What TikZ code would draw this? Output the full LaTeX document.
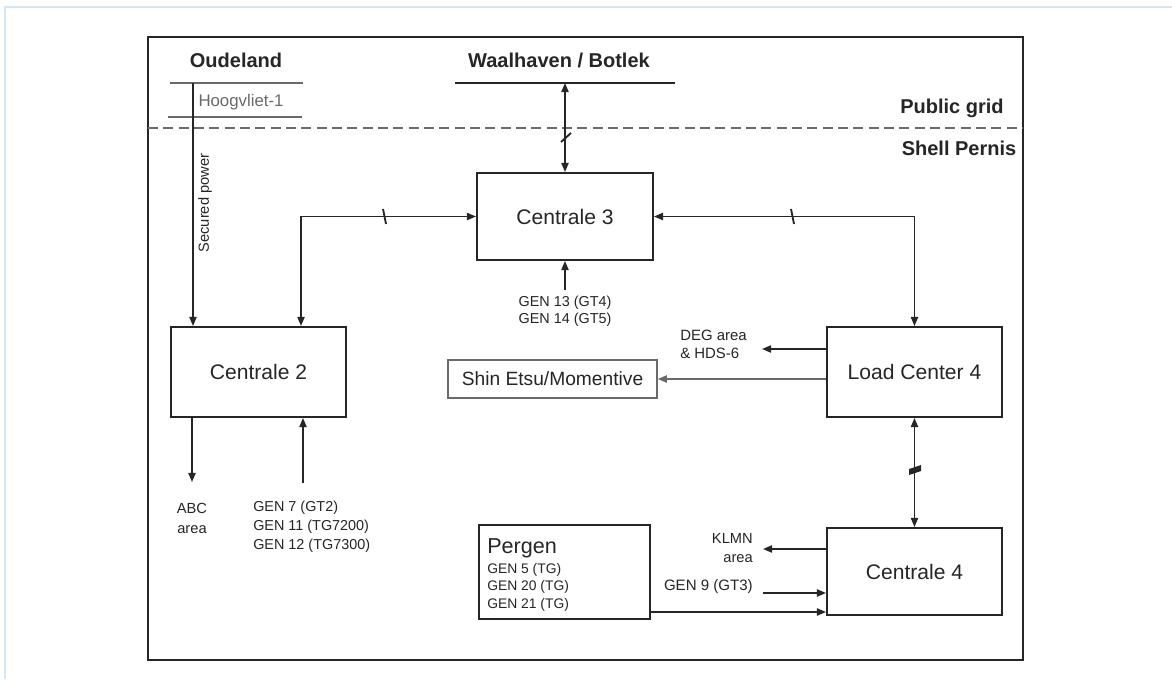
\documentclass[tikz,border=0pt]{standalone}
\usepackage{fontspec}
\setmainfont{Liberation Sans}
\usetikzlibrary{arrows.meta,calc}
\definecolor{ink}{HTML}{262626}
\definecolor{soft}{HTML}{6A6A6A}
\definecolor{frameblue}{HTML}{D3E6F5}
\begin{document}
\begin{tikzpicture}[x=0.75pt,y=-0.75pt,
  >={Triangle[length=6.8pt,width=5.4pt]},
  box/.style={draw=ink, line width=1.5pt, inner sep=0pt, text=ink, font=\fontsize{15.8}{18}\selectfont},
  softbox/.style={draw=soft, line width=1.2pt, inner sep=0pt, text=ink, font=\fontsize{14.4}{17}\selectfont},
  conn/.style={draw=ink, line width=1.2pt},
  softconn/.style={draw=soft, line width=1.2pt},
  bus/.style={draw=soft, line width=1.1pt},
  hdr/.style={font=\fontsize{15}{18}\selectfont\bfseries, text=ink, inner sep=0pt},
  lbl/.style={font=\fontsize{10.8}{12.8}\selectfont, text=ink, inner sep=0pt},
  tick/.style={draw=ink, line width=1.4pt}
]
\useasboundingbox (0,0) rectangle (1172,679);
\fill[white] (0,0) rectangle (1172,679);
\draw[frameblue, line width=0.8pt] (5,679) -- (5,7) -- (1172,7);
\draw[ink, line width=2.2pt] (148,37) rectangle (1023,660);

% zone separation
\coordinate (dl) at (148,128);
\coordinate (dr) at (1023,128);
\draw[soft, line width=1pt, dash pattern=on 7.5pt off 4pt] (dl) -- (dr);
\node[hdr] (pub) at (952,108) {Public grid};
\node[hdr] (shell) at (959,148) {Shell Pernis};

% external grids
\node[hdr] (oud) at (236,60) {Oudeland};
\coordinate (oudL) at (170,83);
\coordinate (oudR) at (303,83);
\draw[bus] (oudL) -- (oudR);
\node[font=\fontsize{12.6}{15}\selectfont, text=soft, inner sep=0pt] (hoog) at (241,102) {Hoogvliet-1};
\coordinate (hooL) at (168,117);
\coordinate (hooR) at (302,117);
\draw[bus] (hooL) -- (hooR);

\node[hdr] (waal) at (559,60) {Waalhaven / Botlek};
\coordinate (waL) at (455,83);
\coordinate (waR) at (675,83);
\draw[conn] (waL) -- (waR);

% boxes
\node[box, minimum width=132pt, minimum height=65.25pt] (C3) at (565,216.5) {Centrale 3};
\node[box, minimum width=131.25pt, minimum height=67.5pt] (C2) at (258.5,372) {Centrale 2};
\node[box, minimum width=131.25pt, minimum height=67.5pt] (LC4) at (914.5,372) {Load Center 4};
\node[box, minimum width=131.25pt, minimum height=65.25pt] (C4) at (914.5,571.5) {Centrale 4};
\node[softbox, minimum width=156.75pt, minimum height=28.5pt] (SE) at (552.5,379) {Shin Etsu/Momentive};
\node[box, minimum width=128.25pt, minimum height=70.5pt] (PG) at (564.5,572) {};
\node[font=\fontsize{16.2}{19}\selectfont, text=ink, inner sep=0pt, anchor=west] (pgt) at (487,548) {Pergen};
\node[font=\fontsize{10.4}{13.1}\selectfont, text=ink, inner sep=0pt, anchor=west, align=left] (pgg) at (487,587) {GEN 5 (TG)\\GEN 20 (TG)\\GEN 21 (TG)};

% secured power
\coordinate (sp) at (193,83);
\draw[conn, ->] (sp) -- (sp |- C2.north);
\node[font=\fontsize{11}{13}\selectfont, text=ink, inner sep=0pt, rotate=90] (spl) at (205,203) {Secured power};

% Waalhaven - Centrale 3
\coordinate (wb) at (565,83);
\draw[conn, <->] (wb) -- (C3.north);
\draw[tick] (561,142) -- (571,133);

% Centrale 2 - Centrale 3
\coordinate (j1) at (301,216.5);
\draw[conn, <->] (j1 |- C2.north) -- (j1) -- (C3.west);
\draw[tick] (383,209) -- (386,224);

% Centrale 3 - Load Center 4
\coordinate (j2) at (914.5,216.5);
\draw[conn, <->] (C3.east) -- (j2) -- (LC4.north);
\draw[tick] (791,209) -- (794,224);

% GEN 13/14
\coordinate (g13) at (565,290);
\draw[conn, ->] (g13) -- (C3.south);
\node[lbl, align=center] (g13t) at (565,311.5) {GEN 13 (GT4)\\GEN 14 (GT5)};

% ABC area
\coordinate (abc) at (192,482);
\draw[conn, ->] (abc |- C2.south) -- (abc);
\node[lbl, align=center, font=\fontsize{11}{15}\selectfont] (abct) at (192,518) {ABC\\area};

% GEN 7/11/12
\coordinate (g7) at (303,483);
\draw[conn, ->] (g7) -- (g7 |- C2.south);
\node[lbl, align=left, anchor=west, font=\fontsize{10.8}{14.25}\selectfont] (g7t) at (253,527) {GEN 7 (GT2)\\GEN 11 (TG7200)\\GEN 12 (TG7300)};

% DEG area
\coordinate (deg) at (762,349);
\draw[conn, ->] (deg -| LC4.west) -- (deg);
\node[lbl, align=left, anchor=west, font=\fontsize{11.2}{13.5}\selectfont] (degt) at (680,344) {DEG area\\\& HDS-6};

% Shin Etsu
\draw[softconn, ->] (LC4.west |- SE.east) -- (SE.east);

% Load Center 4 - Centrale 4
\draw[conn, <->] (LC4.south) -- (C4.north);
\fill[ink] (909,475) -- (909,469) -- (921,465) -- (921,471) -- cycle;

% KLMN area
\coordinate (klmn) at (763,549);
\draw[conn, ->] (klmn -| C4.west) -- (klmn);
\node[lbl, align=right, anchor=east, font=\fontsize{11}{14.25}\selectfont] (klmnt) at (753,548.5) {KLMN\\area};

% GEN 9
\coordinate (g9) at (763,593);
\draw[conn, ->] (g9) -- (g9 -| C4.west);
\node[lbl, anchor=east, font=\fontsize{11.3}{14}\selectfont] (g9t) at (753,587) {GEN 9 (GT3)};

% Pergen
\coordinate (pg) at (650,612);
\draw[conn, ->] (pg) -- (pg -| C4.west);
\end{tikzpicture}
\end{document}
